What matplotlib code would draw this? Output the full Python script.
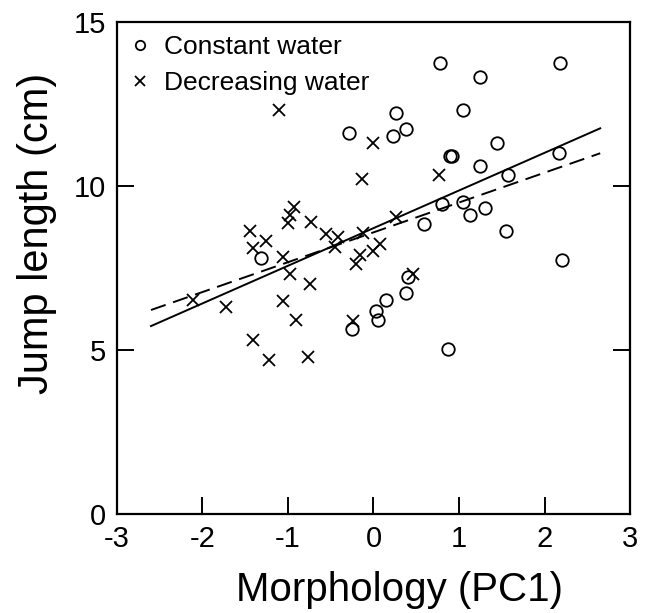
import numpy as np
import matplotlib
matplotlib.use("Agg")
import matplotlib.pyplot as plt

plt.rcParams["font.family"] = ["Liberation Sans", "DejaVu Sans"]
plt.rcParams["axes.unicode_minus"] = False

# constant water (open circles)
const_x = [-1.31, -0.28, -0.25, 0.03, 0.05, 0.15, 0.23, 0.26, 0.38, 0.38, 0.40,
           0.59, 0.78, 0.80, 0.87, 0.89, 0.92, 1.05, 1.05, 1.13, 1.24, 1.24,
           1.30, 1.44, 1.55, 1.57, 2.17, 2.18, 2.20]
const_y = [7.80, 11.61, 5.63, 6.20, 5.91, 6.52, 11.52, 12.22, 11.73, 6.73, 7.23,
           8.83, 13.74, 9.44, 5.02, 10.92, 10.92, 12.32, 9.52, 9.12, 13.34, 10.62,
           9.32, 11.32, 8.64, 10.33, 11.02, 13.74, 7.74]

# decreasing water (crosses)
decr_x = [-2.11, -1.72, -1.44, -1.41, -1.41, -1.25, -1.22, -1.10, -1.06, -1.06,
          -0.97, -0.93, -0.97, -1.00, -0.90, -0.77, -0.74, -0.73, -0.55, -0.42,
          -0.45, -0.24, -0.20, -0.16, -0.13, -0.12, -0.01, 0.00, 0.08, 0.26,
          0.46, 0.77]
decr_y = [6.52, 6.30, 8.64, 8.10, 5.32, 8.33, 4.71, 12.32, 7.83, 6.51,
          7.33, 9.35, 9.12, 8.86, 5.91, 4.79, 7.02, 8.91, 8.53, 8.45,
          8.15, 5.88, 7.63, 7.90, 10.20, 8.56, 8.02, 11.31, 8.24, 9.05,
          7.32, 10.33]

# fitted lines (end points)
fit_x = [-2.6, 2.65]
fit_solid = [5.73, 11.76]
fit_dashed = [6.22, 11.0]

fig = plt.figure(figsize=(6.45, 6.13), dpi=100)
ax = fig.add_axes([0.181, 0.1615, 0.796, 0.8025])

ax.plot(const_x, const_y, "o", mfc="none", mec="k", ms=9, mew=1.3,
        ls="none", label="Constant water")
ax.plot(decr_x, decr_y, "x", color="k", ms=9, mew=1.3,
        ls="none", label="Decreasing water")
ax.plot(fit_x, fit_solid, "k-", lw=1.4)
ax.plot(fit_x, fit_dashed, "k", lw=1.4, dashes=[8, 4])

ax.set_xlim(-3, 3)
ax.set_ylim(0, 15)
ax.set_xticks([-3, -2, -1, 0, 1, 2, 3])
ax.set_yticks([0, 5, 10, 15])
ax.tick_params(direction="in", length=12, width=1.4, labelsize=21, pad=8,
               right=True)
for s in ax.spines.values():
    s.set_linewidth(1.6)

ax.set_xlabel("Morphology (PC1)", fontsize=29)
ax.set_ylabel("Jump length (cm)", fontsize=30)
ax.xaxis.set_label_coords(0.55, -0.115)
ax.yaxis.set_label_coords(-0.117, 0.57)

leg = ax.legend(loc="upper left", bbox_to_anchor=(0.005, 0.995), frameon=False,
                fontsize=19, handlelength=0.8, handletextpad=0.5,
                labelspacing=0.45, borderaxespad=0, markerscale=0.75)

fig.savefig("out.png", dpi=100)
